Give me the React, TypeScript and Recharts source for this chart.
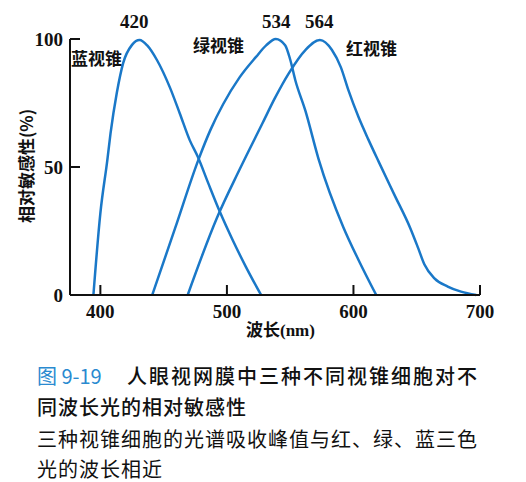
import React from 'react';
import { LineChart, Line, XAxis, YAxis } from 'recharts';

// wavelength (nm) / relative sensitivity (%)
const blueWl = [394.5, 400, 405.5, 408, 413, 418, 425, 431, 437, 444.7, 455, 462.7, 470.6, 477, 485, 494, 505, 515, 527];
const blueVal = [0, 32, 52.7, 63, 79, 90.6, 97.7, 99.6, 97.5, 91.8, 81, 71, 60.5, 54, 44, 33, 21, 11, 0];

const greenWl = [441, 459, 477.6, 487, 497, 510, 523, 531, 538.6, 546, 550, 554, 562, 572.5, 592, 604, 618];
const greenVal = [0, 26, 53, 64.5, 74.5, 85, 93, 97.5, 100, 97.6, 92, 84, 72, 53, 26.5, 13.7, 0];

const redWl = [469, 492, 510, 528, 538, 549, 562, 573.5, 583, 590, 596, 604, 612, 620, 632, 645, 651, 656, 664, 674.5, 685, 697];
const redVal = [0, 30, 49, 67, 77, 86.7, 95.7, 99.6, 95.7, 89, 80, 69.5, 60.5, 52, 39.5, 26, 18.5, 12, 6.5, 3.3, 1.3, 0];

const xTicks = [400, 500, 600, 700];
const yTicks = [0, 50, 100];

const peakLabels = ['420', '534', '564'];
const coneLabels = ['蓝视锥', '绿视锥', '红视锥'];

const toRows = (wl: number[], val: number[]) => wl.map((w, i) => ({ wl: w, v: val[i] }));
const blueData = toRows(blueWl, blueVal);
const greenData = toRows(greenWl, greenVal);
const redData = toRows(redWl, redVal);

const LINE = '#1a78c8';
const INK = '#111';
const SERIF = '"Liberation Serif", "DejaVu Serif", serif';
const CJK = '"Noto Sans CJK SC", sans-serif';

const XTick = (props: any) => {
    const { x, y, payload } = props;
    return (
        <g>
            <line x1={x} x2={x} y1={y} y2={y - 10} stroke={INK} strokeWidth={2} />
            <text x={x} y={y + 23} textAnchor="middle" fill={INK} fontFamily={SERIF} fontWeight="bold" fontSize={19}>
                {payload.value}
            </text>
        </g>
    );
};

const YTick = (props: any) => {
    const { x, y, payload } = props;
    return (
        <g>
            {payload.value !== 0 && <line x1={x} x2={x + 10} y1={y} y2={y} stroke={INK} strokeWidth={2} />}
            <text x={x - 7} y={y + 7} textAnchor="end" fill={INK} fontFamily={SERIF} fontWeight="bold" fontSize={19}>
                {payload.value}
            </text>
        </g>
    );
};

const abs = (left: number, top: number, extra: React.CSSProperties = {}): React.CSSProperties => ({
    position: 'absolute', left, top, whiteSpace: 'nowrap', lineHeight: 1, ...extra
});

export default function App() {
    const peakStyle = { fontFamily: SERIF, fontWeight: 'bold' as const, fontSize: 19, color: INK };
    const coneStyle = { fontFamily: CJK, fontWeight: 700, fontSize: 17, color: INK };
    const capStyle = { fontFamily: CJK, fontSize: 20, color: INK, letterSpacing: 1 };

    return (
        <div style={{ position: 'absolute', left: 0, top: 0, width: 526, height: 482, background: '#fff', overflow: 'hidden' }}>
            <LineChart width={526} height={340} margin={{ top: 39, right: 46, left: 0, bottom: 15 }}>
                <XAxis
                    type="number"
                    dataKey="wl"
                    domain={[376, 700]}
                    ticks={xTicks}
                    allowDataOverflow
                    height={30}
                    tickSize={0}
                    tickMargin={0}
                    tick={XTick}
                    axisLine={{ stroke: INK, strokeWidth: 2 }}
                />
                <YAxis
                    type="number"
                    domain={[0, 100]}
                    ticks={yTicks}
                    width={70}
                    tickSize={0}
                    tickMargin={0}
                    tick={YTick}
                    axisLine={{ stroke: INK, strokeWidth: 2 }}
                />
                <Line data={blueData} dataKey="v" type="monotone" stroke={LINE} strokeWidth={2.5} dot={false} isAnimationActive={false} />
                <Line data={greenData} dataKey="v" type="monotone" stroke={LINE} strokeWidth={2.5} dot={false} isAnimationActive={false} />
                <Line data={redData} dataKey="v" type="monotone" stroke={LINE} strokeWidth={2.5} dot={false} isAnimationActive={false} />
            </LineChart>

            {/* peak wavelength labels */}
            <div style={abs(120, 12, peakStyle)}>{peakLabels[0]}</div>
            <div style={abs(262, 12, peakStyle)}>{peakLabels[1]}</div>
            <div style={abs(305, 12, peakStyle)}>{peakLabels[2]}</div>

            {/* cone names */}
            <div style={abs(71, 49, coneStyle)}>{coneLabels[0]}</div>
            <div style={abs(193, 36, coneStyle)}>{coneLabels[1]}</div>
            <div style={abs(346, 39, coneStyle)}>{coneLabels[2]}</div>

            {/* axis titles */}
            <div style={abs(25, 166, { fontFamily: CJK, fontWeight: 700, fontSize: 17, color: INK, transform: 'translate(-50%, -50%) rotate(-90deg)' })}>
                相对敏感性(%)
            </div>
            <div style={abs(246, 320, { fontFamily: CJK, fontWeight: 700, fontSize: 17, color: INK })}>
                波长<span style={{ fontFamily: SERIF }}>(nm)</span>
            </div>

            {/* caption */}
            <div style={abs(37, 366, { ...capStyle, fontWeight: 400 })}>
                <span style={{ color: '#2a8ad0', letterSpacing: 0 }}>图 9-19</span>
            </div>
            <div style={abs(127, 366, { ...capStyle, fontWeight: 500, letterSpacing: 2 })}>人眼视网膜中三种不同视锥细胞对不</div>
            <div style={abs(37, 397, { ...capStyle, fontWeight: 500 })}>同波长光的相对敏感性</div>
            <div style={abs(37, 429, capStyle)}>三种视锥细胞的光谱吸收峰值与红、绿、蓝三色</div>
            <div style={abs(37, 459, capStyle)}>光的波长相近</div>
        </div>
    );
}
